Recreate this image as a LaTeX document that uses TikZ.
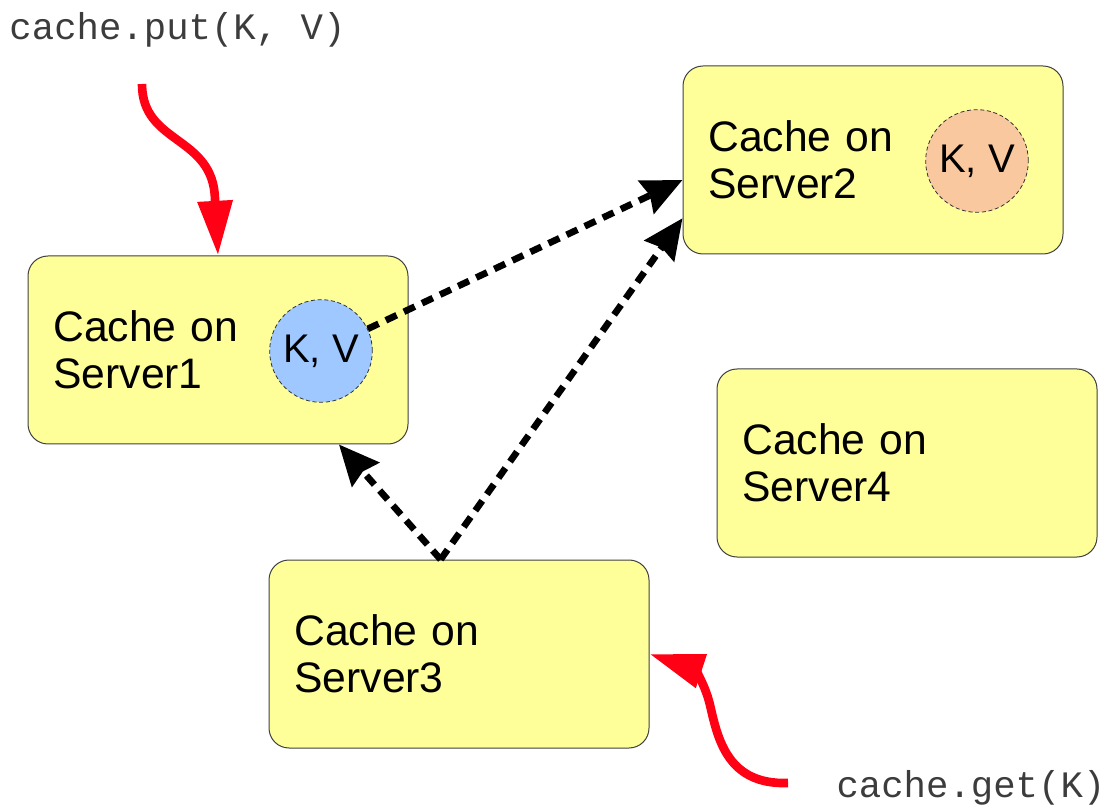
\documentclass[tikz,border=0pt]{standalone}
\usepackage{fontspec}
\setmainfont{Liberation Sans}
\newfontfamily\codefont{Liberation Mono}
\usetikzlibrary{arrows.meta}
\definecolor{cacheyellow}{RGB}{255,255,153}
\definecolor{keyblue}{RGB}{158,200,255}
\definecolor{keyorange}{RGB}{250,200,158}
\definecolor{callred}{RGB}{255,0,20}
\definecolor{codegray}{RGB}{60,60,60}
\tikzset{every picture/.style={line width=0.75pt}}
\tikzset{
	srvbox/.style={draw=black!75, fill=cacheyellow, rounded corners=15pt, minimum width=285pt, minimum height=141pt, inner xsep=19pt, text width=247pt, align=left, font=\fontsize{32}{35}\selectfont},
	kvcircle/.style={circle, draw=black!80, line width=0.6pt, densely dashed, minimum size=77pt, inner sep=0pt, font=\fontsize{30}{32}\selectfont},
	repl/.style={line width=5pt, dash pattern=on 9pt off 6pt, -{Stealth[length=30pt,width=27pt,inset=3pt]}},
	call/.style={draw=callred, line width=6.5pt, -{Triangle[length=41pt,width=25pt]}},
	codetext/.style={text=codegray, font=\codefont\fontsize{28}{30}\selectfont, inner sep=0pt, anchor=base west}}

\begin{document}
\begin{tikzpicture}[x=0.75pt,y=0.75pt,yscale=-1,xscale=1]
	\useasboundingbox (0,0) rectangle (1107,805);

	%Shape: Rounded Rect [id:s1] 
	\node[srvbox] (s1) at (218,350) {Cache on\\Server1};
	%Shape: Rounded Rect [id:s2] 
	\node[srvbox] (s2) at (873,160) {Cache on\\Server2};
	%Shape: Rounded Rect [id:s3] 
	\node[srvbox] (s3) at (459,654) {Cache on\\Server3};
	%Shape: Rounded Rect [id:s4] 
	\node[srvbox] (s4) at (907,463) {Cache on\\Server4};

	%Shape: Circle [id:k1] 
	\node[kvcircle, fill=keyblue] (k1) at (321,351) {K, V};
	%Shape: Circle [id:k2] 
	\node[kvcircle, fill=keyorange] (k2) at (977,161) {K, V};

	% Text Node
	\node[codetext] (put) at (9,40) {cache.put(K, V)};
	% Text Node
	\node[codetext] (get) at (836,797) {cache.get(K)};

	\coordinate (putsrc) at (142,84);
	\coordinate (getsrc) at (788,783);

	%Curve Lines [id:call1] 
	\draw[call] (putsrc) .. controls (142,145) and (214,135) .. (215,200) -- (s1.north);
	%Curve Lines [id:call2] 
	\draw[call] (getsrc) .. controls (728,785) and (718,740) .. (710,705) .. controls (704,680) and (692,668) .. (s3.east);

	%Straight Lines [id:repl1] 
	\draw[repl] (k1) -- (s2.186);
	%Straight Lines [id:repl2] 
	\draw[repl] (s3.101) -- (s2.197);
	%Straight Lines [id:repl3] 
	\draw[repl] (s3.101) -- (s1.322);

\end{tikzpicture}
\end{document}
